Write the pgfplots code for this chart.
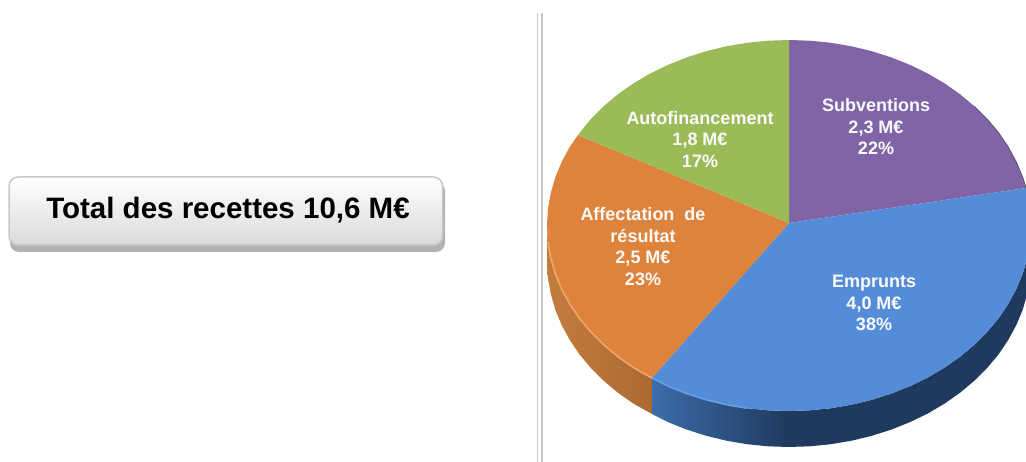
\documentclass[border=0pt]{standalone}
\usepackage{pgfplots}
\pgfplotsset{compat=1.18}
\usepackage{fontspec}
\setmainfont{Liberation Sans}
\definecolor{cpurple}{HTML}{8064A5}
\definecolor{cblue}{HTML}{558CD8}
\definecolor{corange}{HTML}{DD833C}
\definecolor{cgreen}{HTML}{9BBB59}
\definecolor{wallorangeL}{HTML}{C47C3C}
\definecolor{wallorangeR}{HTML}{AC6A30}
\definecolor{wallblueL}{HTML}{3C6CAA}
\definecolor{wallblueR}{HTML}{1F3A5E}
\begin{document}
\begin{tikzpicture}
\useasboundingbox (0,0) rectangle (1026pt,462pt);
\begin{axis}[
  at={(0,0)}, anchor=south west,
  scale only axis, width=1026pt, height=462pt,
  xmin=0, xmax=1026, ymin=0, ymax=462, y dir=reverse,
  hide axis, no markers, clip=true,
]
% separator
\addplot[draw={rgb,255:red,200;green,200;blue,200}, line width=1.7pt] coordinates {(537.5,13) (537.5,462)};
\addplot[draw={rgb,255:red,200;green,200;blue,200}, line width=1.7pt] coordinates {(542,13) (542,462)};
% wall: orange
\addplot[draw=none, left color=wallorangeL, right color=wallorangeR] coordinates {
(547,225.5)(547.9,241.7)(550.7,257.7)(555.2,273.5)(561.6,288.9)(569.7,303.9)(579.4,318.3)(590.8,331.9)(603.6,344.7)(617.9,356.7)(633.4,367.6)(652,378)
(652,414)(633.4,403.6)(617.9,392.7)(603.6,380.7)(590.8,367.9)(579.4,354.3)(569.7,339.9)(561.6,324.9)(555.2,309.5)(550.7,293.7)(547.9,277.7)(547,261.5)
} -- cycle;
% wall: blue, left part shaded
\addplot[draw=none, left color=wallblueL, right color=wallblueR] coordinates {
(652,378)(668,386.1)(686.7,393.6)(706.2,399.8)(726.4,404.7)(747,408.2)(767.9,410.3)(789,411)
(789,447)(767.9,446.3)(747,444.2)(726.4,440.7)(706.2,435.8)(686.7,429.6)(668,422.1)(652,414)
} -- cycle;
% wall: blue, right part
\addplot[draw=none, fill=wallblueR] coordinates {
(788.5,411)(810.1,410.3)(831,408.2)(851.6,404.7)(871.8,399.8)(891.3,393.6)(910,386.1)(927.8,377.5)(944.6,367.6)(960.1,356.7)(974.4,344.7)(987.2,331.9)(998.6,318.3)(1008.3,303.9)(1016.4,288.9)(1022.8,273.5)(1027.3,257.7)(1030.1,241.7)(1031,225.5)
(1031,261.5)(1030.1,277.7)(1027.3,293.7)(1022.8,309.5)(1016.4,324.9)(1008.3,339.9)(998.6,354.3)(987.2,367.9)(974.4,380.7)(960.1,392.7)(944.6,403.6)(927.8,413.5)(910,422.1)(891.3,429.6)(871.8,435.8)(851.6,440.7)(831,444.2)(810.1,446.3)(788.5,447)
} -- cycle;
% top face: Subventions 2,3 M€ 22 %
\addplot[draw=none, fill=cpurple] coordinates {
(789,223)(789,40)(810.1,40.7)(831,42.8)(851.6,46.3)(871.8,51.2)(891.3,57.4)(910,64.9)(927.8,73.5)(944.6,83.4)(960.1,94.3)(974.4,106.3)(987.2,119.1)(998.6,132.7)(1008.3,147.1)(1016.4,162.1)(1022.8,177.5)(1026,188)
} -- cycle;
% top face: Emprunts 4,0 M€ 38 %
\addplot[draw=none, fill=cblue] coordinates {
(789,223)(1026,188)(1027.3,193.3)(1030.1,209.3)(1031,225.5)(1030.1,241.7)(1027.3,257.7)(1022.8,273.5)(1016.4,288.9)(1008.3,303.9)(998.6,318.3)(987.2,331.9)(974.4,344.7)(960.1,356.7)(944.6,367.6)(927.8,377.5)(910,386.1)(891.3,393.6)(871.8,399.8)(851.6,404.7)(831,408.2)(810.1,410.3)(789,411)(767.9,410.3)(747,408.2)(726.4,404.7)(706.2,399.8)(686.7,393.6)(668,386.1)(652,378)
} -- cycle;
% top face: Affectation de résultat 2,5 M€ 23 %
\addplot[draw=none, fill=corange] coordinates {
(789,223)(652,378)(633.4,367.6)(617.9,356.7)(603.6,344.7)(590.8,331.9)(579.4,318.3)(569.7,303.9)(561.6,288.9)(555.2,273.5)(550.7,257.7)(547.9,241.7)(547,225.5)(547.9,209.3)(550.7,193.3)(555.2,177.5)(561.6,162.1)(569.7,147.1)(578,135)
} -- cycle;
% top face: Autofinancement 1,8 M€ 17 %
\addplot[draw=none, fill=cgreen] coordinates {
(789,223)(578,135)(590.8,119.1)(603.6,106.3)(617.9,94.3)(633.4,83.4)(650.2,73.5)(668,64.9)(686.7,57.4)(706.2,51.2)(726.4,46.3)(747,42.8)(767.9,40.7)(789,40)
} -- cycle;
% rims
\addplot[draw={rgb,255:red,240;green,165;blue,105}, line width=1.6pt] coordinates {
(547.9,241.7)(550.7,257.7)(555.2,273.5)(561.6,288.9)(569.7,303.9)(579.4,318.3)(590.8,331.9)(603.6,344.7)(617.9,356.7)(633.4,367.6)(652,378)};
\addplot[draw={rgb,255:red,100;green,160;blue,230}, line width=1.6pt] coordinates {
(652,378)(668,386.1)(686.7,393.6)(706.2,399.8)(726.4,404.7)(747,408.2)};
\addplot[draw={rgb,255:red,85;green,85;blue,110}, line width=0.8pt] coordinates {
(974.4,106.3)(987.2,119.1)(998.6,132.7)(1008.3,147.1)(1016.4,162.1)(1022.8,177.5)(1026,188)};
% total box
\draw[draw=none, fill={rgb,255:red,178;green,178;blue,178}, rounded corners=9pt] (axis cs:10,182) rectangle (axis cs:445,252);
\draw[draw={rgb,255:red,200;green,200;blue,200}, line width=1.5pt, top color=white, bottom color={rgb,255:red,218;green,218;blue,218}, rounded corners=9pt] (axis cs:9,177) rectangle (axis cs:442.5,245);
\node[font=\bfseries\fontsize{29.5}{34}\selectfont, text=black, inner sep=0pt, anchor=base] at (axis cs:228,219) {Total des recettes 10,6 M€};
% labels
\begin{scope}[every node/.style={font=\bfseries\fontsize{18}{21.5}\selectfont, text={rgb,255:red,250;green,250;blue,250}, align=center, inner sep=0pt}]
\node at (axis cs:700,139.5) {Autofinancement\\1,8 M€\\17\%};
\node at (axis cs:876,127) {Subventions\\2,3 M€\\22\%};
\node at (axis cs:874,303) {Emprunts\\4,0 M€\\38\%};
\node at (axis cs:643,246.5) {Affectation\ \ de\\résultat\\2,5 M€\\23\%};
\end{scope}
\end{axis}
\end{tikzpicture}
\end{document}
